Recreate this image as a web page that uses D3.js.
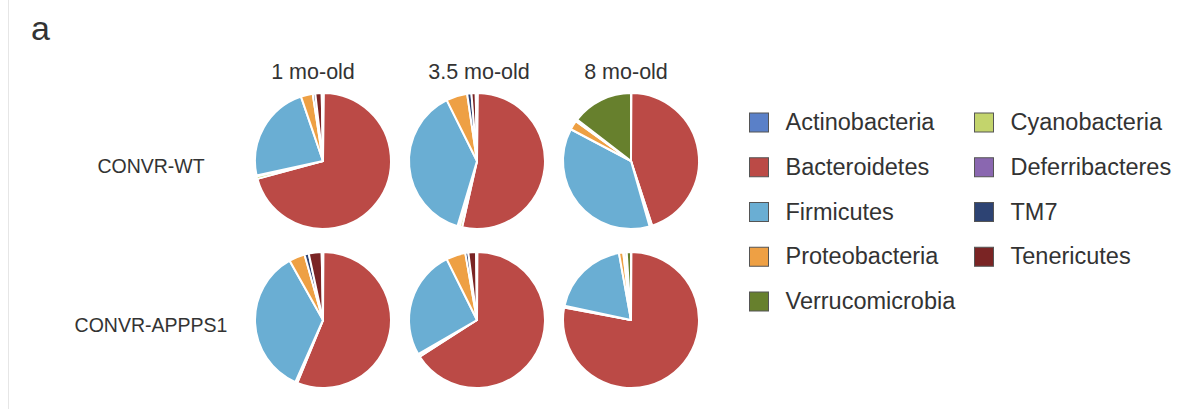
<!DOCTYPE html>
<html>
<head>
<meta charset="utf-8">
<script src="https://cdn.jsdelivr.net/npm/d3@7"></script>
<style>
  body { margin: 0; background: #fff; }
  svg { display: block; font-family: "Liberation Sans", Arial, sans-serif; }
</style>
</head>
<body>
<div id="chart"></div>
<script>
// phyla, in the order the slices run clockwise from 12 o'clock
const phyla = ['Actinobacteria', 'Bacteroidetes', 'Cyanobacteria', 'Deferribacteres',
               'Firmicutes', 'Proteobacteria', 'TM7', 'Tenericutes', 'Verrucomicrobia']
const phylumColors = ['#5a80c8', '#bb4a46', '#c3d46c', '#8a67b0',
                      '#6aaed3', '#eea044', '#2d4373', '#7a2424', '#67802d']

const ages = ['1 mo-old', '3.5 mo-old', '8 mo-old']
const groups = ['CONVR-WT', 'CONVR-APPPS1']

// relative abundance (%)
const wt1   = [0.2, 70.0, 0.6, 0.2, 23.0, 2.8, 0.6, 1.5, 0.3]
const wt35  = [0.2, 53.0, 0.6, 0.5, 37.8, 5.0, 1.0, 1.0, 0.3]
const wt8   = [0.1, 44.7, 0.5, 0.1, 37.0, 2.2, 0.2, 0.3, 14.5]
const app1  = [0.1, 55.0, 0.3, 0.2, 34.5, 3.7, 1.0, 3.0, 0.3]
const app35 = [0.1, 64.5, 0.5, 0.2, 25.5, 4.5, 0.7, 1.8, 0.2]
const app8  = [0.1, 77.0, 0.3, 0.1, 18.6, 1.0, 0.3, 0.5, 1.0]

// legend columns as printed
const legendLeft = ['Actinobacteria', 'Bacteroidetes', 'Firmicutes', 'Proteobacteria', 'Verrucomicrobia']
const legendRight = ['Cyanobacteria', 'Deferribacteres', 'TM7', 'Tenericutes']

const w = 1180
const h = 409
const radius = 68

const pies = [
  { group: groups[0], age: ages[0], values: wt1 },
  { group: groups[0], age: ages[1], values: wt35 },
  { group: groups[0], age: ages[2], values: wt8 },
  { group: groups[1], age: ages[0], values: app1 },
  { group: groups[1], age: ages[1], values: app35 },
  { group: groups[1], age: ages[2], values: app8 }
]

const color = d3.scaleOrdinal().domain(phyla).range(phylumColors)

const xScale = d3.scalePoint().domain(ages).range([323, 631])
const yScale = d3.scalePoint().domain(groups).range([161, 320])

const svg = d3.select('#chart')
              .append('svg')
              .attr('width', w)
              .attr('height', h)

// faint frame line on the left
svg.append('line')
   .attr('x1', 8.5).attr('x2', 8.5)
   .attr('y1', 0).attr('y2', h)
   .attr('stroke', '#e6e6e6')
   .attr('stroke-width', 1)

// panel letter
svg.append('text')
   .attr('x', 31)
   .attr('y', 40)
   .attr('font-size', 34)
   .attr('fill', '#333')
   .text('a')

// column headers
const headerShift = [-10, 2, -5]
svg.selectAll('.age')
   .data(ages)
   .enter()
   .append('text')
   .attr('class', 'age')
   .attr('x', (d, i) => xScale(d) + headerShift[i])
   .attr('y', 79)
   .attr('text-anchor', 'middle')
   .attr('font-size', 21.5)
   .attr('fill', '#333')
   .text(d => d)

// row labels
svg.selectAll('.group')
   .data(groups)
   .enter()
   .append('text')
   .attr('class', 'group')
   .attr('x', 151)
   .attr('y', d => yScale(d) + 12)
   .attr('text-anchor', 'middle')
   .attr('font-size', 19.5)
   .attr('fill', '#333')
   .text(d => d)

const pie = d3.pie().sort(null).value(d => d)
const arc = d3.arc().innerRadius(0).outerRadius(radius)

const pieGroups = svg.selectAll('.pie')
   .data(pies)
   .enter()
   .append('g')
   .attr('class', 'pie')
   .attr('transform', d => 'translate(' + xScale(d.age) + ',' + yScale(d.group) + ')')

pieGroups.selectAll('path')
   .data(d => pie(d.values))
   .enter()
   .append('path')
   .attr('d', arc)
   .attr('fill', (d, i) => color(phyla[i]))
   .attr('stroke', '#fff')
   .attr('stroke-width', 2)
   .attr('stroke-linejoin', 'round')

// legend
const legendY = d3.scalePoint().domain(d3.range(5)).range([122, 301])

const drawLegend = (names, x) => {
  const item = svg.selectAll(null)
     .data(names)
     .enter()
     .append('g')
     .attr('transform', (d, i) => 'translate(' + x + ',' + legendY(i) + ')')

  item.append('rect')
      .attr('x', 0)
      .attr('y', -9)
      .attr('width', 19)
      .attr('height', 19)
      .attr('fill', d => color(d))
      .attr('stroke', '#555')
      .attr('stroke-width', 1)

  item.append('text')
      .attr('x', 36)
      .attr('y', 8)
      .attr('font-size', 23.5)
      .attr('fill', '#333')
      .text(d => d)
}

drawLegend(legendLeft, 749.5)
drawLegend(legendRight, 974.5)
</script>
</body>
</html>
